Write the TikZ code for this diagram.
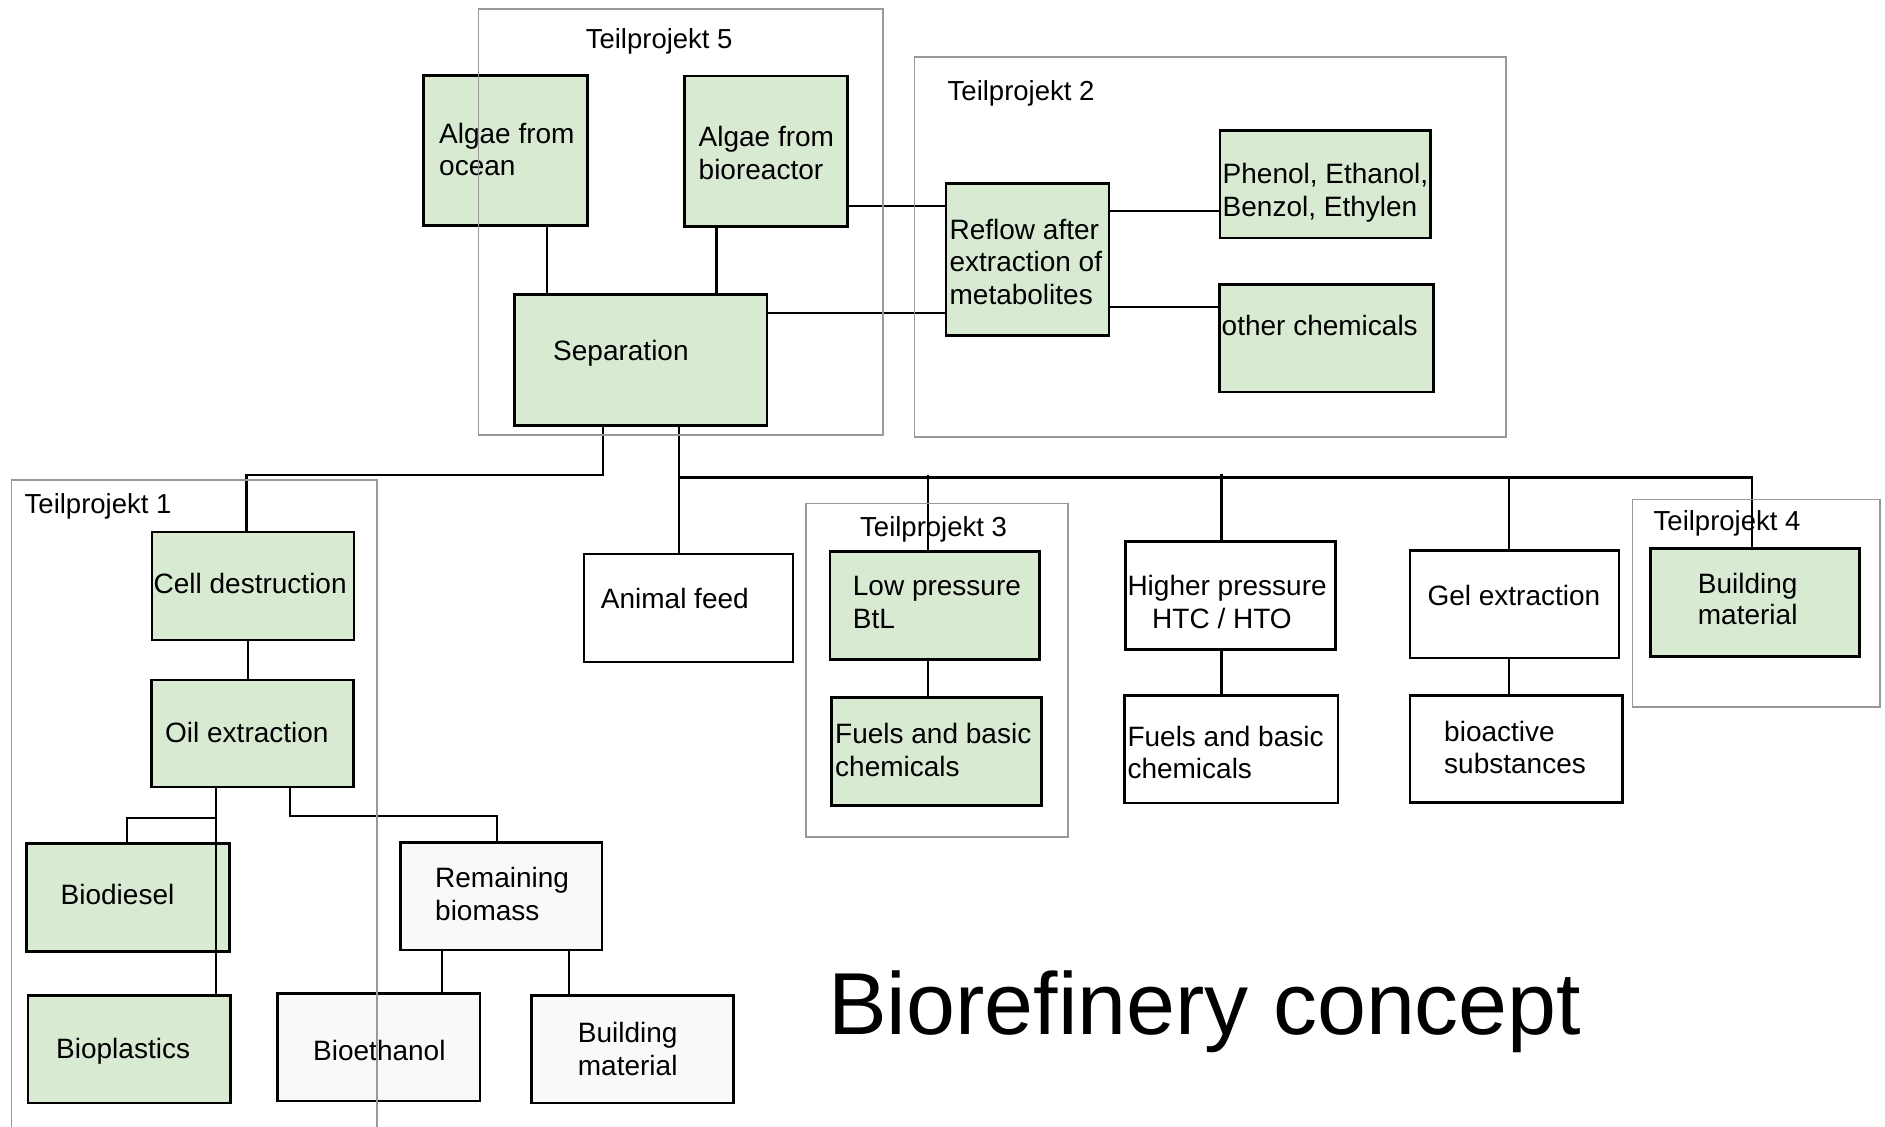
\documentclass[tikz,border=0pt]{standalone}
\usepackage{fontspec}
\setmainfont{Liberation Sans}
\definecolor{algaegreen}{HTML}{D9EAD3}
\definecolor{palegray}{HTML}{F9F9F9}
\definecolor{framegray}{HTML}{999999}
\tikzset{
  box/.style={draw=black, line width=2.6pt, inner sep=0pt, anchor=north west},
  gbox/.style={box, fill=algaegreen},
  wbox/.style={box, fill=white},
  pbox/.style={box, fill=palegray},
  txt/.style={anchor=base west, inner sep=0pt, font=\fontsize{28}{32}\selectfont},
  tplabel/.style={anchor=base west, inner sep=0pt, font=\fontsize{27.5}{32}\selectfont},
  conn/.style={line width=2.1pt},
  bus/.style={line width=2.8pt},
  frame/.style={draw=framegray, line width=1.6pt},
}
\newcommand{\bx}[6]{\node[#1, minimum width=#5pt, minimum height=#6pt] (#2) at (#3,#4) {};}
\begin{document}
\begin{tikzpicture}[x=1pt,y=-1pt]
\fill[white] (0,0) rectangle (1885,1127);
\useasboundingbox (0,0) rectangle (1885,1127);

% boxes
\bx{gbox}{ocean}{422}{74}{164}{150}
\bx{gbox}{bior}{683}{74.5}{163}{150.5}
\bx{gbox}{sep}{513}{293}{252.5}{131}
\bx{gbox}{reflow}{944.7}{182.3}{163}{151.7}
\bx{gbox}{phenol}{1218.7}{129.3}{210.3}{107.4}
\bx{gbox}{other}{1218.3}{283.3}{213.7}{107.4}
\bx{gbox}{cell}{150.7}{530.5}{202}{108}
\bx{gbox}{oil}{150}{678.5}{202.3}{107.2}
\bx{gbox}{biodiesel}{25.3}{842.3}{202.9}{107.6}
\bx{gbox}{bioplast}{26.5}{994.2}{202.8}{107.6}
\bx{pbox}{remain}{399.4}{841}{201.2}{107.7}
\bx{pbox}{bioeth}{276.4}{992}{202.4}{107.7}
\bx{pbox}{buildb}{530}{994}{202.3}{107.7}
\bx{wbox}{animal}{582.7}{552.7}{209}{108}
\bx{gbox}{low}{828.7}{550}{209.6}{108.3}
\bx{gbox}{fuels3}{830}{696}{210}{108}
\bx{wbox}{higher}{1124.2}{540}{209.9}{108.3}
\bx{wbox}{fuelsh}{1123.1}{694.3}{213.7}{107.4}
\bx{wbox}{gel}{1408.8}{549}{208.9}{107.7}
\bx{wbox}{bioact}{1408.8}{694}{212.6}{107}
\bx{gbox}{build4}{1649.3}{547.3}{208.9}{107.7}

% texts
\node[tplabel] (t5) at (585.6,48) {Teilprojekt 5};
\node[tplabel] (t2) at (947.5,100) {Teilprojekt 2};
\node[tplabel] (t1) at (24.5,513.5) {Teilprojekt 1};
\node[tplabel] (t3) at (860,536.7) {Teilprojekt 3};
\node[tplabel] (t4) at (1653.5,530) {Teilprojekt 4};

\node[txt] (oceanA) at (439,143.3) {Algae from};
\node[txt] (oceanB) at (439,175.7) {ocean};
\node[txt] (biorA) at (698.5,146.7) {Algae from};
\node[txt] (biorB) at (698.5,179) {bioreactor};
\node[txt] (sepT) at (553,360.7) {Separation};
\node[txt] (reflowA) at (949.4,239) {Reflow after};
\node[txt] (reflowB) at (949.4,271.5) {extraction of};
\node[txt] (reflowC) at (949.4,304) {metabolites};
\node[txt] (phenolA) at (1222.5,183.3) {Phenol, Ethanol,};
\node[txt] (phenolB) at (1222.5,216.7) {Benzol, Ethylen};
\node[txt] (otherT) at (1221.5,335) {other chemicals};
\node[txt] (cellT) at (153.5,593.5) {Cell destruction};
\node[txt] (oilT) at (165,742.5) {Oil extraction};
\node[txt] (biodieselT) at (60.5,904) {Biodiesel};
\node[txt] (bioplastT) at (56,1058) {Bioplastics};
\node[txt] (remainA) at (435,887) {Remaining};
\node[txt] (remainB) at (435,920.2) {biomass};
\node[txt] (bioethT) at (313,1060.5) {Bioethanol};
\node[txt] (buildbA) at (577.7,1042.7) {Building};
\node[txt] (buildbB) at (577.7,1075) {material};
\node[txt] (animalT) at (600.7,608.3) {Animal feed};
\node[txt] (lowA) at (852.7,595) {Low pressure};
\node[txt] (lowB) at (852.7,628.3) {BtL};
\node[txt] (fuels3A) at (835,743.3) {Fuels and basic};
\node[txt] (fuels3B) at (835,776.7) {chemicals};
\node[txt] (higherA) at (1127.3,595) {Higher pressure};
\node[txt] (higherB) at (1152,628.3) {HTC / HTO};
\node[txt] (fuelshA) at (1127.3,746) {Fuels and basic};
\node[txt] (fuelshB) at (1127.3,778.3) {chemicals};
\node[txt] (gelT) at (1427.3,605) {Gel extraction};
\node[txt] (bioactA) at (1444,741.7) {bioactive};
\node[txt] (bioactB) at (1444,773.3) {substances};
\node[txt] (build4A) at (1697.7,593.3) {Building};
\node[txt] (build4B) at (1697.7,624.3) {material};
\node[anchor=base west, inner sep=0pt, font=\fontsize{88}{100}\selectfont] (title) at (828,1034.3) {Biorefinery concept};

% connectors
\draw[conn] (547,0 |- ocean.south) -- (547,0 |- sep.north);
\draw[conn] (716.5,0 |- bior.south) -- (716.5,0 |- sep.north);
\draw[conn] (bior.east |- 0,206) -- (reflow.west |- 0,206);
\draw[conn] (sep.east |- 0,313) -- (reflow.west |- 0,313);
\draw[conn] (reflow.east |- 0,210.7) -- (phenol.west |- 0,210.7);
\draw[conn] (reflow.east |- 0,306.7) -- (other.west |- 0,306.7);
\draw[conn] (603,0 |- sep.south) -- (603,474.8) -- (246.5,474.8) -- (246.5,0 |- cell.north);
\draw[conn] (679,0 |- sep.south) -- (679,0 |- animal.north);
\draw[bus] (679,477.3) -- (1752,477.3) -- (1752,0 |- build4.north);
\draw[conn] (927.7,475) -- (927.7,0 |- low.north);
\draw[conn] (927.7,0 |- low.south) -- (927.7,0 |- fuels3.north);
\draw[conn] (1221.5,474.3) -- (1221.5,0 |- higher.north);
\draw[conn] (1221.5,0 |- higher.south) -- (1221.5,0 |- fuelsh.north);
\draw[conn] (1509.3,477.3) -- (1509.3,0 |- gel.north);
\draw[conn] (1509.3,0 |- gel.south) -- (1509.3,0 |- bioact.north);
\draw[conn] (248.3,0 |- cell.south) -- (248.3,0 |- oil.north);
\draw[conn] (216.3,0 |- oil.south) -- (216.3,0 |- bioplast.north);
\draw[conn] (216.7,818.3) -- (127.3,818.3) -- (127.3,0 |- biodiesel.north);
\draw[conn] (289.8,0 |- oil.south) -- (289.8,816) -- (497,816) -- (497,0 |- remain.north);
\draw[conn] (442,0 |- remain.south) -- (442,0 |- bioeth.north);
\draw[conn] (568.8,0 |- remain.south) -- (568.8,0 |- buildb.north);

% frames
\draw[frame] (478.5,9) rectangle (883,435);
\draw[frame] (914.6,56.7) rectangle (1505.8,436.7);
\draw[frame] (11.5,1127) -- (11.5,480) -- (376.7,480) -- (376.7,1127);
\draw[frame] (805.7,503.3) rectangle (1067.7,836.7);
\draw[frame] (1632.5,499.3) rectangle (1879.7,706.7);
\end{tikzpicture}
\end{document}
